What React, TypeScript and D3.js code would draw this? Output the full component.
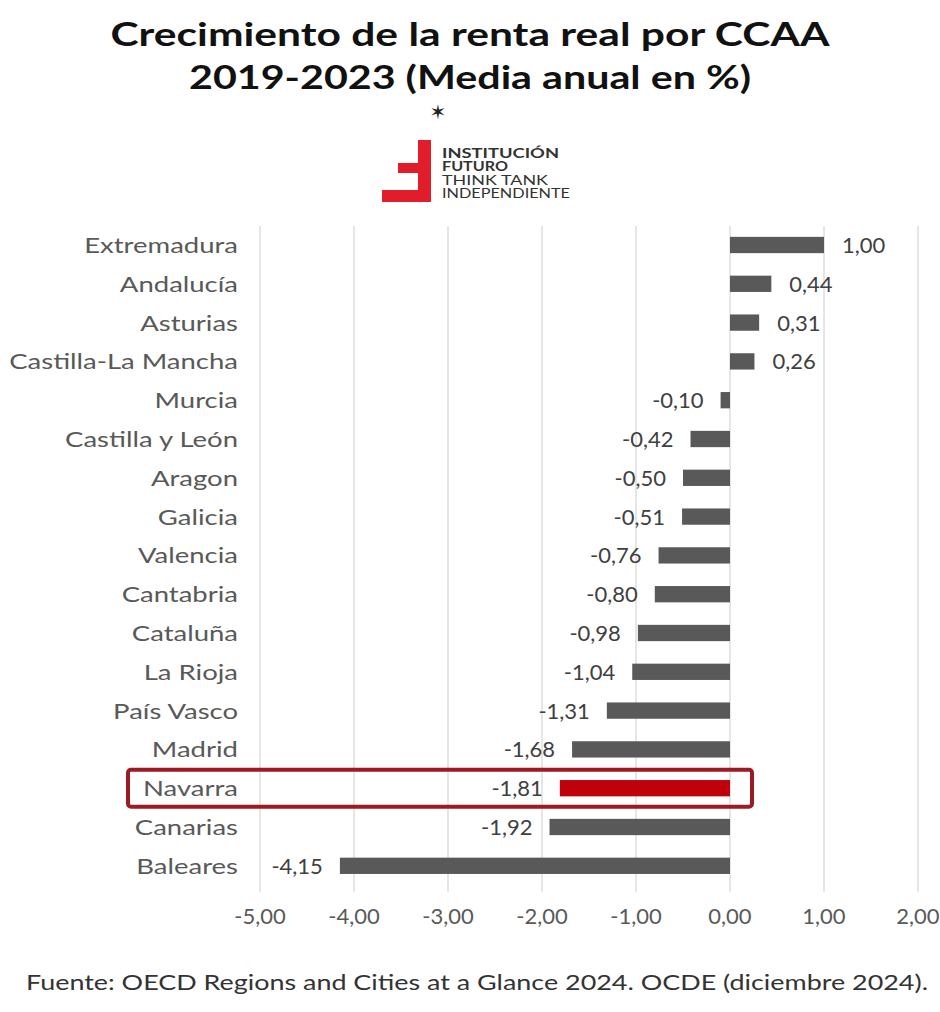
import React from "react";
import * as d3 from "d3";

const regions = [
  "Extremadura", "Andalucía", "Asturias", "Castilla-La Mancha", "Murcia",
  "Castilla y León", "Aragon", "Galicia", "Valencia", "Cantabria", "Cataluña",
  "La Rioja", "País Vasco", "Madrid", "Navarra", "Canarias", "Baleares",
];
const growth = [1.0, 0.44, 0.31, 0.26, -0.1, -0.42, -0.5, -0.51, -0.76, -0.8, -0.98, -1.04, -1.31, -1.68, -1.81, -1.92, -4.15];
const xTicks = [-5, -4, -3, -2, -1, 0, 1, 2];
const highlight = "Navarra";
const titleLines = ["Crecimiento de la renta real por CCAA", "2019-2023 (Media anual en %)"];
const source = "Fuente: OECD Regions and Cities at a Glance 2024. OCDE (diciembre 2024).";

const FONT = "Lato, 'Open Sans', sans-serif";
const fmt = (v: number) => d3.format(".2f")(v).replace(".", ",").replace("\u2212", "-");

export default function App() {
  const W = 940, H = 1012;
  const x = d3.scaleLinear().domain([-5, 2]).range([260, 918]);
  const y = d3.scaleBand<string>().domain(regions).range([225.6, 885.2]).paddingInner(0.58).paddingOuter(0.29);
  const hy = y(highlight)! + y.bandwidth() / 2;
  return (
    <svg width={W} height={H} style={{ position: "absolute", left: 0, top: 0, background: "#fff" }}>
      <rect width={W} height={H} fill="#fff" />
      {titleLines.map((t, i) => (
        <text key={i} x={470} y={46 + i * 43} textAnchor="middle" fontFamily={FONT} fontWeight={700}
          fontSize={33} fill="#111" textLength={i === 0 ? 719 : 562} lengthAdjust="spacingAndGlyphs">{t}</text>
      ))}
      <text x={438} y={119} textAnchor="middle" fontSize={20} fill="#222" fontFamily="DejaVu Sans">✶</text>
      {/* logo */}
      <path d="M418,140 H431 V202 H382 V190 H418 V173 H398 V163 H418 Z" fill="#e21d2b" />
      <g fontFamily={FONT} fontSize={12.5} fill="#333">
        <text x={442} y={158} fontWeight={700} textLength={117} lengthAdjust="spacingAndGlyphs">INSTITUCIÓN</text>
        <text x={442} y={171} fontWeight={700} textLength={66} lengthAdjust="spacingAndGlyphs">FUTURO</text>
        <text x={442} y={184.5} fontWeight={400} textLength={106} lengthAdjust="spacingAndGlyphs">THINK TANK</text>
        <text x={442} y={198} fontWeight={400} textLength={128} lengthAdjust="spacingAndGlyphs">INDEPENDIENTE</text>
      </g>
      {/* grid */}
      {xTicks.map((t) => (
        <line key={t} x1={x(t)} x2={x(t)} y1={226} y2={892} stroke="#d9d9d9" strokeWidth={1.3} />
      ))}
      {/* bars */}
      {regions.map((r, i) => {
        const v = growth[i];
        const x0 = x(Math.min(0, v));
        const w = Math.abs(x(v) - x(0));
        const cy = y(r)! + y.bandwidth() / 2;
        return (
          <g key={r}>
            <rect x={x0} y={y(r)} width={w} height={y.bandwidth()} fill={r === highlight ? "#c0000b" : "#595959"} />
            <text x={v >= 0 ? x(v) + 18 : x(v) - 17} y={cy} dy="0.36em" textAnchor={v >= 0 ? "start" : "end"}
              fontFamily={FONT} fontSize={22} fill="#404040">{fmt(v)}</text>
            <g transform={`translate(238,${cy}) scale(1.25,1)`}>
              <text x={0} y={0} dy="0.36em" textAnchor="end" fontFamily={FONT} fontSize={22} fill="#595959">{r}</text>
            </g>
          </g>
        );
      })}
      {/* highlight box */}
      <rect x={128} y={hy - 18.5} width={624} height={37} rx={3} fill="none" stroke="#9e1a22" strokeWidth={4} />
      {/* x axis labels */}
      {xTicks.map((t) => (
        <text key={t} x={x(t)} y={924} textAnchor="middle" fontFamily={FONT} fontSize={22} fill="#595959">{fmt(t)}</text>
      ))}
      <text x={477} y={990} textAnchor="middle" fontFamily={FONT} fontSize={21} fill="#333"
        textLength={902} lengthAdjust="spacingAndGlyphs">{source}</text>
    </svg>
  );
}
